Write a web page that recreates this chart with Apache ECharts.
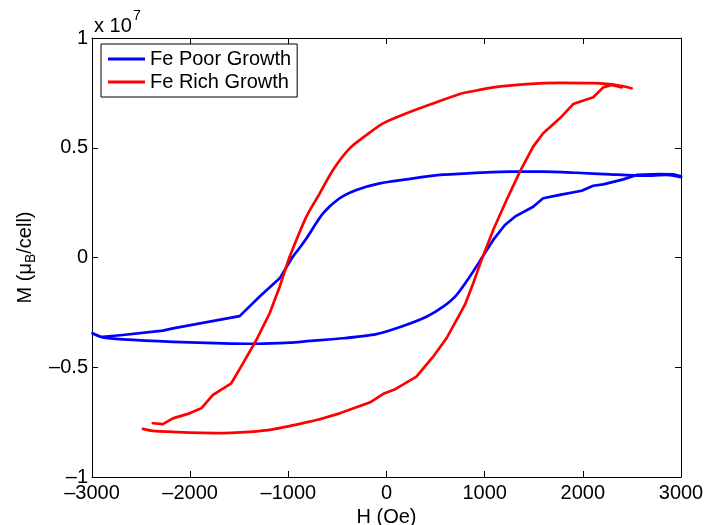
<!DOCTYPE html>
<html>
<head>
<meta charset="utf-8">
<script src="https://cdn.jsdelivr.net/npm/echarts@6/dist/echarts.min.js"></script>
<style>
html,body{margin:0;padding:0;background:#fff;}
#chart{width:704px;height:525px;}
</style>
</head>
<body>
<div id="chart"></div>
<script>
// Units: M in 1e7 muB/cell, H in Oe
const SCALE_EXP = 7;
const xTicks = [-3000, -2000, -1000, 0, 1000, 2000, 3000];
const yTicks = [-1, -0.5, 0, 0.5, 1];
const seriesNames = ['Fe Poor Growth', 'Fe Rich Growth'];

// ---- Fe Poor Growth ----
// descending field, upper smooth part
const poorTopH = [3000, 2854, 2616, 2276, 1937, 1596, 1257, 849, 543, 204, -69, -306, -477, -647, -816, -902, -960];
const poorTopM = [0.366, 0.376, 0.373, 0.379, 0.386, 0.391, 0.391, 0.384, 0.376, 0.356, 0.338, 0.308, 0.270, 0.201, 0.087, 0.034, 0.000];
// descending field, lower-left stepped part
const poorLeftH = [-960, -1088, -1292, -1496, -1802, -2176, -2278, -2686, -2890];
const poorLeftM = [0.000, -0.095, -0.178, -0.267, -0.292, -0.323, -0.333, -0.353, -0.361];
// ascending field, lower smooth part
const poorBottomH = [-2995, -2890, -2686, -2176, -1666, -1326, -986, -782, -443, -102, 169, 407, 577, 713, 849, 968];
const poorBottomM = [-0.345, -0.364, -0.373, -0.384, -0.391, -0.393, -0.388, -0.380, -0.368, -0.349, -0.312, -0.270, -0.224, -0.171, -0.087, -0.004];
// ascending field, upper-right stepped part
const poorRightH = [968, 1087, 1206, 1308, 1494, 1596, 1766, 1988, 2106, 2208, 2412, 2548, 2786, 2922, 3000];
const poorRightM = [-0.004, 0.080, 0.148, 0.186, 0.231, 0.270, 0.285, 0.304, 0.327, 0.333, 0.356, 0.376, 0.380, 0.379, 0.370];

// ---- Fe Rich Growth ----
// descending field, upper smooth part
const richTopH = [2497, 2344, 2106, 1766, 1427, 1087, 849, 747, 475, 204, -35, -204, -375, -545, -680, -816, -990];
const richTopM = [0.771, 0.786, 0.794, 0.796, 0.790, 0.775, 0.755, 0.745, 0.702, 0.657, 0.611, 0.558, 0.497, 0.399, 0.292, 0.186, 0.000];
// descending field, lower-left stepped part
const richLeftH = [-990, -1088, -1190, -1326, -1462, -1581, -1768, -1887, -2006, -2176, -2278, -2380];
const richLeftM = [0.000, -0.133, -0.254, -0.376, -0.482, -0.573, -0.626, -0.687, -0.710, -0.733, -0.759, -0.755];
// ascending field, lower smooth part
const richBottomH = [-2482, -2380, -2006, -1734, -1394, -1157, -782, -680];
const richBottomM = [-0.781, -0.790, -0.798, -0.800, -0.794, -0.783, -0.748, -0.737];
// ascending field, right stepped part
const richRightH = [-680, -477, -171, -32, 89, 305, 475, 611, 713, 798, 883, 968, 1087, 1223, 1359, 1494, 1596, 1766, 1902, 2106, 2208, 2294, 2396];
const richRightM = [-0.737, -0.710, -0.661, -0.621, -0.600, -0.543, -0.452, -0.368, -0.285, -0.216, -0.118, -0.011, 0.125, 0.262, 0.391, 0.505, 0.566, 0.634, 0.699, 0.730, 0.775, 0.786, 0.775];

function pairs(xs, ys) { return xs.map((x, i) => [x, ys[i]]); }
function fmt(v) {
  if (v === 0) return '0';
  return String(v).replace('-', '\u2013');
}

const FONT = 'Liberation Sans, Arial, Helvetica, sans-serif';
const BLUE = '#0000ff';
const RED = '#ff0000';

function lineSeries(name, color, xs, ys, smooth) {
  return {
    type: 'line', name: name, data: pairs(xs, ys),
    showSymbol: false, symbol: 'none', smooth: smooth,
    lineStyle: { color: color, width: 2.7, cap: 'round', join: 'round' }, itemStyle: { color: color },
    emphasis: { disabled: true }, animation: false, z: 3
  };
}

const chart = echarts.init(document.getElementById('chart'), null, { renderer: 'canvas', width: 704, height: 525 });
const baseAxisX = {
  type: 'value', min: xTicks[0], max: xTicks[xTicks.length - 1], interval: 1000,
  axisLine: { show: true, onZero: false, lineStyle: { color: '#000', width: 1 } },
  axisTick: { show: true, inside: true, length: 6, lineStyle: { color: '#000' } },
  splitLine: { show: false }
};
const baseAxisY = {
  type: 'value', min: yTicks[0], max: yTicks[yTicks.length - 1], interval: 0.5,
  axisLine: { show: true, onZero: false, lineStyle: { color: '#000', width: 1 } },
  axisTick: { show: true, inside: true, length: 6, lineStyle: { color: '#000' } },
  splitLine: { show: false }
};

chart.setOption({
  backgroundColor: '#fff',
  animation: false,
  grid: { left: 92, right: 23, top: 38, bottom: 48, containLabel: false, outerBoundsMode: 'none' },
  xAxis: [
    Object.assign({}, baseAxisX, {
      position: 'bottom',
      axisLabel: { show: true, margin: 6, color: '#000', fontSize: 20, fontFamily: FONT, formatter: fmt },
      name: 'H (Oe)', nameLocation: 'middle', nameGap: 28,
      nameTextStyle: { color: '#000', fontSize: 20, fontFamily: FONT }
    }),
    Object.assign({}, baseAxisX, { position: 'top', axisLabel: { show: false } })
  ],
  yAxis: [
    Object.assign({}, baseAxisY, {
      position: 'left',
      axisLabel: { show: true, margin: 4, color: '#000', fontSize: 20, fontFamily: FONT, formatter: fmt },
      name: 'M (\u03bc{sub|B}/cell)', nameLocation: 'middle', nameGap: 48, nameRotate: 90,
      nameTextStyle: {
        color: '#000', fontSize: 20, fontFamily: FONT,
        rich: { sub: { fontSize: 14, fontFamily: FONT, color: '#000', padding: [12, 0, 0, 0] } }
      }
    }),
    Object.assign({}, baseAxisY, { position: 'right', axisLabel: { show: false } })
  ],
  legend: {
    show: true, orient: 'vertical', left: 101, top: 44,
    data: seriesNames.map(n => ({ name: n, icon: 'rect' })),
    itemWidth: 37, itemHeight: 3, itemGap: 3,
    padding: [5, 6, 5, 7],
    borderColor: '#000', borderWidth: 1, backgroundColor: '#fff',
    textStyle: { color: '#000', fontSize: 20, fontFamily: FONT, lineHeight: 20 },
    selectedMode: false
  },
  graphic: [
    { type: 'text', left: 94, top: 16, style: { text: 'x 10', font: '20px ' + FONT, fill: '#000' }, silent: true },
    { type: 'text', left: 133, top: 9, style: { text: String(SCALE_EXP), font: '14px ' + FONT, fill: '#000' }, silent: true }
  ],
  series: [
    lineSeries(seriesNames[0], BLUE, poorTopH, poorTopM, 0.25),
    lineSeries(seriesNames[0], BLUE, poorLeftH, poorLeftM, false),
    lineSeries(seriesNames[0], BLUE, poorBottomH, poorBottomM, 0.25),
    lineSeries(seriesNames[0], BLUE, poorRightH, poorRightM, false),
    lineSeries(seriesNames[1], RED, richTopH, richTopM, 0.25),
    lineSeries(seriesNames[1], RED, richLeftH, richLeftM, false),
    lineSeries(seriesNames[1], RED, richBottomH, richBottomM, 0.25),
    lineSeries(seriesNames[1], RED, richRightH, richRightM, false)
  ]
});
</script>
</body>
</html>
